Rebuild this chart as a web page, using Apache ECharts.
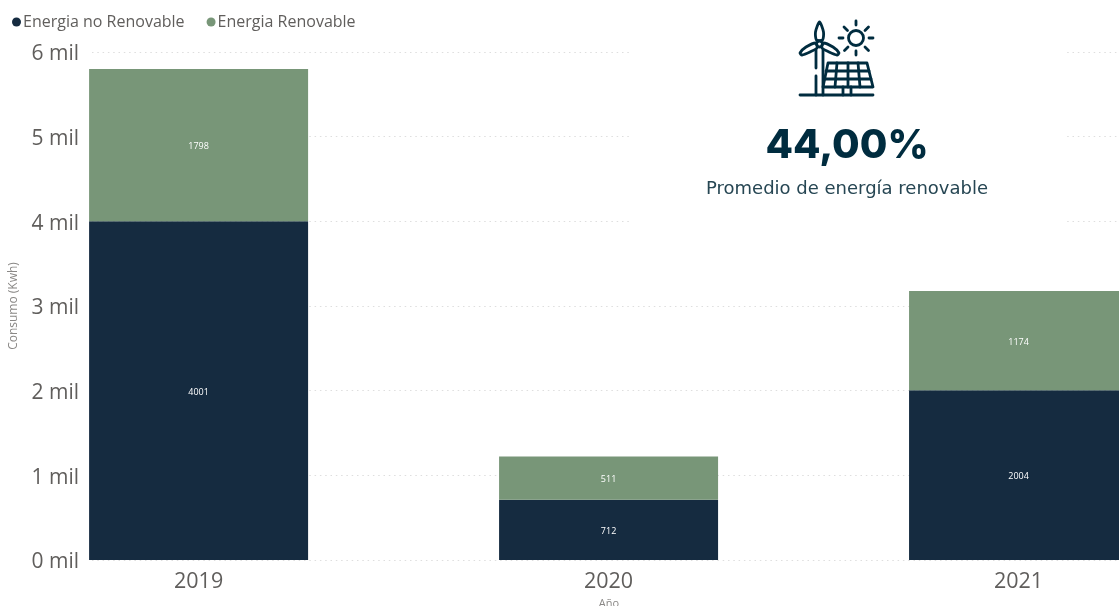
<!DOCTYPE html>
<html><head><meta charset="utf-8">
<style>html,body{margin:0;padding:0;background:#fff}#c{width:1119px;height:606px}</style>
<script src="https://cdn.jsdelivr.net/npm/echarts@6/dist/echarts.min.js"></script></head>
<body><div id="c"></div>
<script>
const categories = ['2019','2020','2021'];
const noRenovable = [4001,712,2004];
const renovable = [1798,511,1174];
const yTicks = [0,1000,2000,3000,4000,5000,6000];
const seriesNames = ['Energia no Renovable','Energia Renovable'];
const kpiValue = '44,00%';
const kpiLabel = 'Promedio de energía renovable';
const ink = '#002c3f';
const font = '"Open Sans"';
const xPositions = categories.map((c,i)=>i);
const chart = echarts.init(document.getElementById('c'));
const st = {stroke: ink, lineWidth: 2.8, fill: 'none', lineCap: 'round', lineJoin: 'round'};
const poly = (pts, closed, smooth) => ({type: closed ? 'polygon' : 'polyline', z:12, shape:{points:pts, smooth: smooth||0}, style:st});
const icon = [
 poly([[800,95],[873,95]]),
 poly([[819.5,22],[823.5,32],[822.5,40],[816.5,40],[815.5,32]],true,0.25),
 {type:'circle',z:12,shape:{cx:819.5,cy:44,r:3},style:st},
 poly([[816,50],[816,68]]), poly([[816,76],[816,95]]), poly([[823,50],[823,95]]),
 poly([[816,43],[806,47],[800,53],[802,55],[810,52],[817,48]],true,0.25),
 poly([[823,43],[833,47],[839,53],[837,55],[829,52],[822,48]],true,0.25),
 poly([[828,63],[867,63],[873,87],[823,87]],true),
 poly([[826,71],[869,71]]), poly([[825,79],[871,79]]),
 poly([[837,63],[835,87]]), poly([[848,63],[848,87]]), poly([[858,63],[860,87]]),
 poly([[843,87],[843,95]]), poly([[851,87],[851,95]]),
 {type:'circle',z:12,shape:{cx:856,cy:38,r:7.5},style:st},
 poly([[856,21],[856,25]]), poly([[856,51],[856,55]]),
 poly([[839,38],[843,38]]), poly([[869,38],[873,38]]),
 poly([[844,27],[847.5,30.5]]), poly([[865,47],[868.5,50.5]]),
 poly([[844.5,50.5],[848,47]]), poly([[868.5,27],[865,30.5]])
];
chart.setOption({
 animation:false,
 backgroundColor:'#fff',
 textStyle:{fontFamily:font},
 color:['#152b40','#789678'],
 legend:{left:7,top:9,icon:'circle',itemWidth:9,itemHeight:9,itemGap:22,
  textStyle:{color:'#605e5c',fontSize:16,fontFamily:font,padding:[0,0,0,-3]},
  data:seriesNames},
 grid:{left:89,width:1030,top:52,height:508},
 xAxis:{type:'value',min:-0.26,max:2.245,containShape:false,splitLine:{show:false},axisLine:{show:false},
   axisTick:{show:false,customValues:xPositions},
   axisLabel:{color:'#605e5c',fontSize:21.5,margin:11,customValues:xPositions,formatter:v=>categories[v]}},
 yAxis:{type:'value',min:0,max:6000,interval:1000,
   name:'Consumo (Kwh)',nameLocation:'middle',nameGap:72,nameMoveOverlap:false,
   nameTextStyle:{color:'#8a8886',fontSize:12},
   axisLine:{show:false},axisTick:{show:false},
   axisLabel:{color:'#605e5c',fontSize:21,margin:13,verticalAlign:'top',lineHeight:5,formatter:v=>yTicks.includes(v)?(v/1000)+' mil':''},
   splitLine:{show:true,lineStyle:{color:'#dedede',type:[1.5,3.8],width:1}}},
 series:[
  {name:seriesNames[0],type:'bar',stack:'a',data:noRenovable.map((v,i)=>[v,xPositions[i]]),encode:{x:1,y:0},barWidth:219,z:3,
   label:{show:true,position:'inside',color:'#fff',fontSize:9,offset:[0,1.5],formatter:p=>p.value[0]}},
  {name:seriesNames[1],type:'bar',stack:'a',data:renovable.map((v,i)=>[v,xPositions[i]]),encode:{x:1,y:0},barWidth:219,z:3,
   label:{show:true,position:'inside',color:'#fff',fontSize:9,offset:[0,1.5],formatter:p=>p.value[0]}}
 ],
 graphic:[
  {type:'rect',z:10,shape:{x:630,y:10,width:435,height:240},style:{fill:'#fff'}},
  {type:'group',z:11,children:icon},
  {type:'text',z:11,style:{x:847,y:146,text:kpiValue,align:'center',verticalAlign:'middle',fill:ink,font:'800 40px Inter'}},
  {type:'text',z:11,style:{x:847,y:189.5,text:kpiLabel,align:'center',verticalAlign:'middle',fill:'#264653',font:'400 18px "DejaVu Sans"'}},
  {type:'text',z:11,style:{x:609,y:604,text:'Año',align:'center',verticalAlign:'middle',fill:'#8a8886',font:'11px "Open Sans"'}}
 ]
});
</script></body></html>
